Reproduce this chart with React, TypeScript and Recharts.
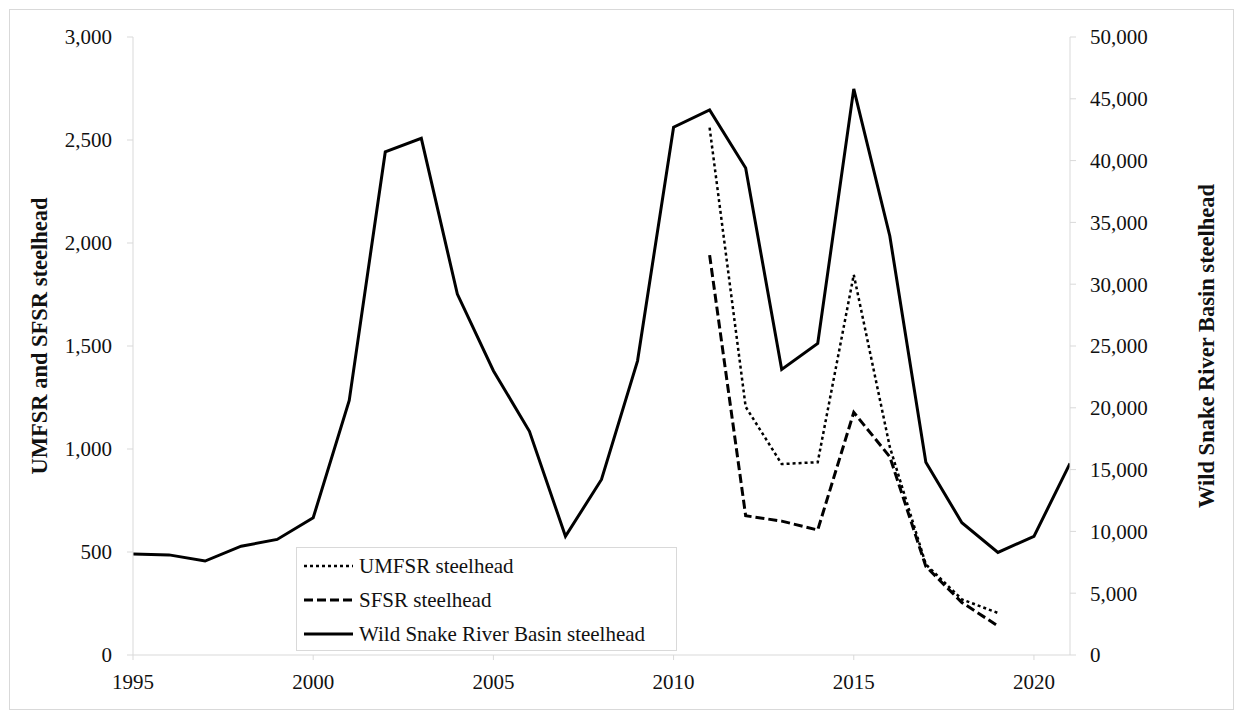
import { LineChart, Line, XAxis, YAxis, Legend } from 'recharts';

const years = [
  1995, 1996, 1997, 1998, 1999, 2000, 2001, 2002, 2003, 2004, 2005, 2006, 2007, 2008,
  2009, 2010, 2011, 2012, 2013, 2014, 2015, 2016, 2017, 2018, 2019, 2020, 2021,
];

// wild Snake River Basin steelhead (right axis)
const wildSnake = [
  8170, 8100, 7600, 8800, 9350, 11100, 20600, 40700, 41800, 29200, 23000, 18100, 9600, 14200,
  23800, 42700, 44100, 39400, 23100, 25200, 45800, 33900, 15600, 10700, 8300, 9600, 15500,
];

// UMFSR / SFSR only from 2011 to 2019 (left axis)
const umfsr = [2560, 1205, 927, 936, 1846, 1010, 440, 270, 204];
const sfsr = [1941, 676, 650, 607, 1178, 962, 430, 255, 141];
const subStart = 2011;

const xTicks = [1995, 2000, 2005, 2010, 2015, 2020];
const leftTicks = [0, 500, 1000, 1500, 2000, 2500, 3000];
const rightTicks = [0, 5000, 10000, 15000, 20000, 25000, 30000, 35000, 40000, 45000, 50000];

const data = years.map((year, i) => {
  const j = year - subStart;
  return {
    year,
    wild: wildSnake[i],
    umfsr: j >= 0 && j < umfsr.length ? umfsr[j] : null,
    sfsr: j >= 0 && j < sfsr.length ? sfsr[j] : null,
  };
});

const FONT = 'Liberation Serif';
const AXIS_GRAY = '#d9d9d9';
const tickStyle = { fontSize: 21, fill: '#111', fontFamily: FONT };
const titleStyle = { fontSize: 22.5, fontWeight: 'bold', fill: '#111', fontFamily: FONT, textAnchor: 'middle' };
const fmt = (v: number) => v.toLocaleString('en-US');

const legendItems = [
  { label: 'UMFSR steelhead', dash: '3 3', width: 2.5 },
  { label: 'SFSR steelhead', dash: '9 4', width: 3 },
  { label: 'Wild Snake River Basin steelhead', dash: undefined, width: 3 },
];

function LegendBox() {
  return (
    <div style={{ fontFamily: FONT, fontSize: 21, color: '#111', paddingTop: 1 }}>
      {legendItems.map((item) => (
        <div key={item.label} style={{ display: 'flex', alignItems: 'center', height: 34 }}>
          <svg width={62} height={10} style={{ flex: 'none' }}>
            <line x1={7} y1={5} x2={56} y2={5} stroke="#000" strokeWidth={item.width} strokeDasharray={item.dash} />
          </svg>
          <span style={{ whiteSpace: 'nowrap' }}>{item.label}</span>
        </div>
      ))}
    </div>
  );
}

export default function App() {
  return (
    <div style={{ position: 'absolute', left: 0, top: 0, width: 1243, height: 719, background: '#fff' }}>
      <div
        style={{
          position: 'absolute',
          left: 9,
          top: 9,
          width: 1225,
          height: 701,
          border: `1px solid ${AXIS_GRAY}`,
          boxSizing: 'border-box',
        }}
      />
      <LineChart
        width={1243}
        height={719}
        data={data}
        margin={{ top: 37, right: 0, bottom: 0, left: 0 }}
        style={{ fontFamily: FONT }}
      >
        <XAxis
          dataKey="year"
          type="number"
          domain={[1995, 2021]}
          ticks={xTicks}
          height={64}
          stroke={AXIS_GRAY}
          tickSize={5}
          tickMargin={14}
          tick={tickStyle}
          allowDataOverflow
        />
        <YAxis
          yAxisId="left"
          width={133}
          domain={[0, 3000]}
          ticks={leftTicks}
          tickFormatter={fmt}
          stroke={AXIS_GRAY}
          tickSize={6}
          tickMargin={15}
          tick={tickStyle}
          label={{
            value: 'UMFSR and SFSR steelhead',
            angle: -90,
            position: 'center',
            dx: -27,
            dy: -10,
            style: titleStyle,
          }}
        />
        <YAxis
          yAxisId="right"
          orientation="right"
          width={173}
          domain={[0, 50000]}
          ticks={rightTicks}
          tickFormatter={fmt}
          stroke={AXIS_GRAY}
          tickSize={6}
          tickMargin={14}
          tick={tickStyle}
          label={{
            value: 'Wild Snake River Basin steelhead',
            angle: -90,
            position: 'center',
            dx: 50,
            style: titleStyle,
          }}
        />
        <Legend
          layout="vertical"
          align="center"
          verticalAlign="middle"
          content={() => <LegendBox />}
          wrapperStyle={{
            left: 296,
            top: 547,
            width: 381,
            height: 104,
            border: `1px solid ${AXIS_GRAY}`,
            background: '#fff',
            boxSizing: 'border-box',
          }}
        />
        <Line
          yAxisId="left"
          dataKey="umfsr"
          name="UMFSR steelhead"
          type="linear"
          stroke="#000"
          strokeWidth={2.5}
          strokeDasharray="3 3"
          dot={false}
          activeDot={false}
          connectNulls={false}
          isAnimationActive={false}
        />
        <Line
          yAxisId="left"
          dataKey="sfsr"
          name="SFSR steelhead"
          type="linear"
          stroke="#000"
          strokeWidth={3}
          strokeDasharray="9 4"
          dot={false}
          activeDot={false}
          connectNulls={false}
          isAnimationActive={false}
        />
        <Line
          yAxisId="right"
          dataKey="wild"
          name="Wild Snake River Basin steelhead"
          type="linear"
          stroke="#000"
          strokeWidth={3}
          dot={false}
          activeDot={false}
          isAnimationActive={false}
        />
      </LineChart>
    </div>
  );
}
